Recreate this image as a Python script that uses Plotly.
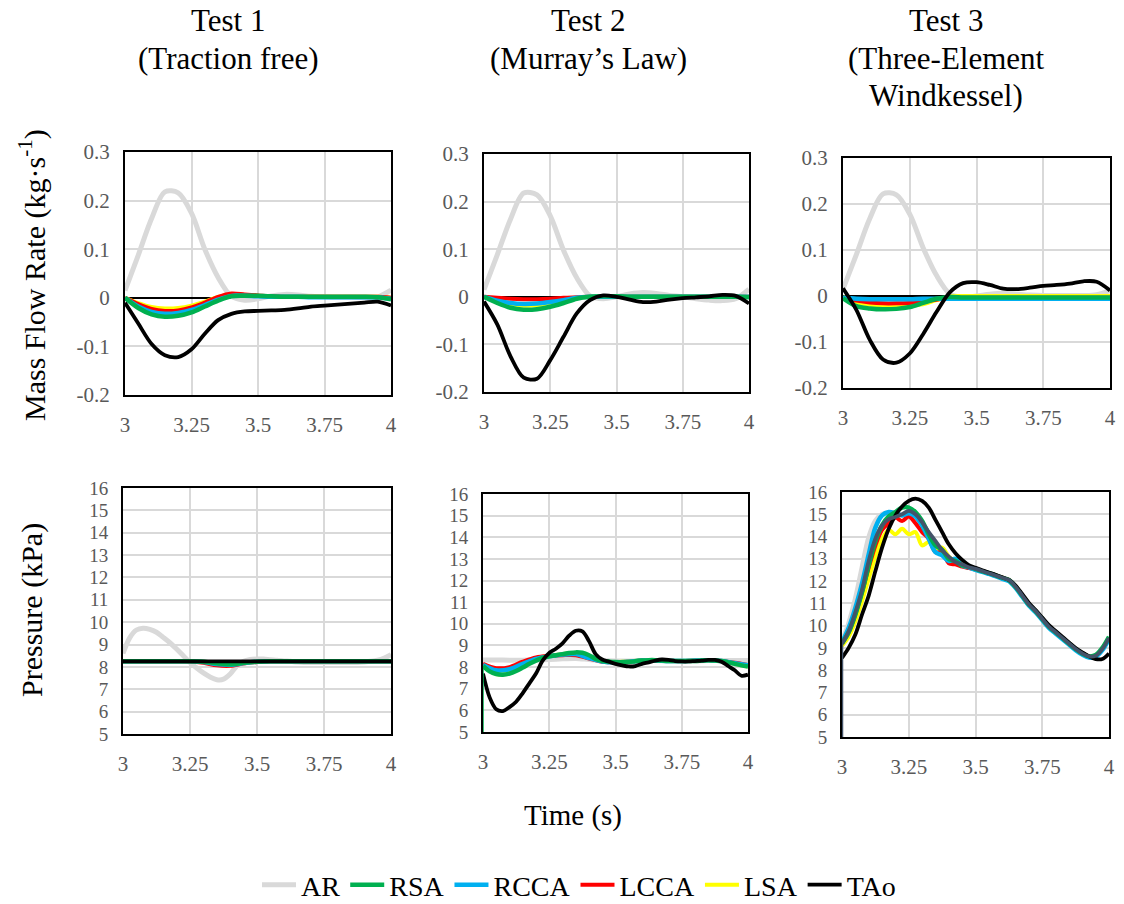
import plotly.graph_objects as go

# ---------------- data ----------------
T21 = [3.00, 3.05, 3.10, 3.15, 3.20, 3.25, 3.30, 3.35, 3.40, 3.45, 3.50,
       3.55, 3.60, 3.65, 3.70, 3.75, 3.80, 3.85, 3.90, 3.95, 4.00]
T41 = [3.000, 3.025, 3.050, 3.075, 3.100, 3.125, 3.150, 3.175, 3.200, 3.225,
       3.250, 3.275, 3.300, 3.325, 3.350, 3.375, 3.400, 3.425, 3.450, 3.475,
       3.500, 3.525, 3.550, 3.575, 3.600, 3.625, 3.650, 3.675, 3.700, 3.725,
       3.750, 3.775, 3.800, 3.825, 3.850, 3.875, 3.900, 3.925, 3.950, 3.975, 4.000]

SERIES = ["AR", "RSA", "RCCA", "LCCA", "LSA", "TAo"]
TITLES = [["Test 1", "(Traction free)"], ["Test 2", "(Murray\u2019s Law)"],
          ["Test 3", "(Three-Element", "Windkessel)"]]
X_TICKS = [3, 3.25, 3.5, 3.75, 4]
X_TICKTEXT = ["3", "3.25", "3.5", "3.75", "4"]
FLOW_TICKS = [-0.2, -0.1, 0, 0.1, 0.2, 0.3]
FLOW_TICKTEXT = ["-0.2", "-0.1", "0", "0.1", "0.2", "0.3"]
P_TICKS = [5, 6, 7, 8, 9, 10, 11, 12, 13, 14, 15, 16]

# Mass flow rate (kg/s), Test 1
F1_AR = [0.015, 0.088, 0.163, 0.218, 0.216, 0.174, 0.100, 0.042, 0.003, -0.005, -0.002,
         0.004, 0.007, 0.006, 0.003, 0.002, 0.001, 0.001, 0.000, 0.002, 0.016]
F1_RSA = [0.000, -0.021, -0.034, -0.039, -0.037, -0.030, -0.018, -0.006, 0.003, 0.004, 0.004,
          0.003, 0.002, 0.002, 0.002, 0.002, 0.002, 0.002, 0.002, 0.001, -0.003]
F1_RCCA = [0.000, -0.018, -0.029, -0.033, -0.031, -0.025, -0.015, -0.004, 0.004, 0.004, 0.003,
           0.002, 0.002, 0.002, 0.001, 0.001, 0.001, 0.001, 0.001, 0.001, -0.002]
F1_LCCA = [0.000, -0.013, -0.023, -0.027, -0.026, -0.020, -0.010, 0.002, 0.009, 0.007, 0.005,
           0.003, 0.002, 0.002, 0.002, 0.002, 0.002, 0.002, 0.002, 0.002, 0.000]
F1_LSA = [0.000, -0.011, -0.019, -0.022, -0.021, -0.016, -0.008, 0.002, 0.007, 0.006, 0.004,
          0.003, 0.002, 0.002, 0.002, 0.002, 0.002, 0.002, 0.002, 0.002, 0.000]
F1_TAO = [-0.010, -0.053, -0.095, -0.118, -0.122, -0.106, -0.074, -0.046, -0.033, -0.028, -0.027,
          -0.026, -0.025, -0.022, -0.018, -0.016, -0.014, -0.012, -0.010, -0.008, -0.016]

# Mass flow rate (kg/s), Test 2
F2_AR = [0.015, 0.088, 0.163, 0.218, 0.214, 0.170, 0.098, 0.040, 0.002, -0.004, 0.000,
         0.006, 0.009, 0.007, 0.003, 0.000, -0.004, -0.007, -0.008, -0.004, 0.016]
F2_RSA = [0.000, -0.013, -0.023, -0.027, -0.026, -0.021, -0.013, -0.004, 0.000, 0.001, 0.001,
          0.000, 0.000, 0.000, 0.000, 0.000, 0.000, 0.000, 0.000, 0.000, -0.001]
F2_RCCA = [0.000, -0.008, -0.013, -0.015, -0.014, -0.011, -0.007, -0.002, 0.000, 0.000, 0.000,
           0.000, 0.000, 0.000, 0.000, 0.000, 0.000, 0.000, 0.000, 0.000, 0.000]
F2_LCCA = [0.000, -0.002, -0.004, -0.005, -0.005, -0.004, -0.002, -0.001, 0.000, 0.000, 0.000,
           0.000, 0.000, 0.000, 0.000, 0.000, 0.000, 0.000, 0.000, 0.000, 0.000]
F2_LSA = [0.000, -0.010, -0.017, -0.019, -0.018, -0.015, -0.009, -0.003, 0.000, 0.000, 0.000,
          0.000, 0.000, 0.000, 0.000, 0.000, 0.000, 0.000, 0.000, 0.000, 0.000]
F2_TAO = [-0.010, -0.058, -0.125, -0.170, -0.172, -0.133, -0.084, -0.035, -0.007, 0.003, 0.000,
          -0.006, -0.011, -0.010, -0.006, -0.003, -0.001, 0.001, 0.004, 0.002, -0.014]

# Mass flow rate (kg/s), Test 3
F3_AR = [0.015, 0.090, 0.168, 0.222, 0.220, 0.178, 0.105, 0.045, 0.005, -0.003, 0.000,
         0.004, 0.006, 0.004, 0.002, 0.001, 0.001, 0.001, 0.001, 0.003, 0.012]
F3_RSA = [-0.005, -0.022, -0.027, -0.029, -0.028, -0.024, -0.015, -0.006, -0.002, -0.003, -0.003,
          -0.003, -0.003, -0.003, -0.003, -0.003, -0.003, -0.003, -0.003, -0.003, -0.003]
F3_RCCA = [-0.004, -0.006, -0.007, -0.007, -0.007, -0.007, -0.006, -0.006, -0.006, -0.006, -0.006,
           -0.006, -0.006, -0.006, -0.006, -0.006, -0.006, -0.006, -0.006, -0.006, -0.006]
F3_LCCA = [-0.004, -0.010, -0.014, -0.016, -0.016, -0.015, -0.013, -0.008, -0.004, -0.004, -0.004,
           -0.004, -0.004, -0.004, -0.004, -0.004, -0.004, -0.004, -0.004, -0.004, -0.004]
F3_LSA = [-0.002, -0.014, -0.019, -0.021, -0.022, -0.021, -0.018, -0.009, -0.001, 0.000, 0.000,
          0.000, 0.000, 0.000, 0.000, 0.000, 0.000, 0.000, 0.000, 0.000, 0.000]
F3_TAO = [0.017, -0.030, -0.095, -0.138, -0.145, -0.125, -0.083, -0.035, 0.008, 0.028, 0.030,
          0.024, 0.016, 0.015, 0.018, 0.022, 0.024, 0.027, 0.032, 0.031, 0.012]

# Pressure (kPa), Test 1
P1_AR = [8.60, 9.30, 9.65, 9.73, 9.68, 9.55, 9.32, 9.08, 8.80, 8.50, 8.20, 7.95, 7.73, 7.55,
         7.43, 7.45, 7.68, 8.05, 8.25, 8.33, 8.35, 8.35, 8.32, 8.30, 8.27, 8.25, 8.22, 8.20,
         8.20, 8.20, 8.20, 8.20, 8.20, 8.20, 8.20, 8.20, 8.22, 8.25, 8.30, 8.40, 8.55]
P1_RSA = [8.25, 8.25, 8.25, 8.25, 8.25, 8.25, 8.23, 8.16, 8.12, 8.18, 8.23,
          8.25, 8.25, 8.25, 8.25, 8.25, 8.25, 8.25, 8.25, 8.25, 8.25]
P1_RCCA = [8.25, 8.25, 8.25, 8.25, 8.25, 8.25, 8.22, 8.13, 8.10, 8.17, 8.23,
           8.25, 8.25, 8.25, 8.25, 8.25, 8.25, 8.25, 8.25, 8.25, 8.25]
P1_LCCA = [8.25, 8.25, 8.25, 8.25, 8.25, 8.24, 8.18, 8.07, 8.05, 8.15, 8.22,
           8.25, 8.25, 8.25, 8.25, 8.25, 8.25, 8.25, 8.25, 8.25, 8.25]
P1_LSA = [8.25, 8.25, 8.25, 8.25, 8.25, 8.25, 8.23, 8.17, 8.13, 8.19, 8.23,
          8.25, 8.25, 8.25, 8.25, 8.25, 8.25, 8.25, 8.25, 8.25, 8.25]
P1_TAO = [8.25, 8.25, 8.25, 8.25, 8.25, 8.25, 8.25, 8.25, 8.25, 8.25, 8.25,
          8.25, 8.25, 8.25, 8.25, 8.25, 8.25, 8.25, 8.25, 8.25, 8.25]

# Pressure (kPa), Test 2
P2_AR = [8.33, 8.33, 8.32, 8.32, 8.33, 8.35, 8.38, 8.40, 8.35, 8.30, 8.28,
         8.28, 8.30, 8.30, 8.28, 8.28, 8.28, 8.30, 8.30, 8.30, 8.30]
P2_RSA_START = 0.0
P2_RSA = [8.05, 7.80, 7.68, 7.65, 7.70, 7.82, 7.98, 8.15, 8.30, 8.42, 8.50, 8.55, 8.60, 8.65,
          8.68, 8.66, 8.55, 8.38, 8.28, 8.25, 8.23, 8.22, 8.23, 8.27, 8.30, 8.32, 8.32, 8.30,
          8.28, 8.28, 8.28, 8.28, 8.28, 8.30, 8.32, 8.30, 8.28, 8.22, 8.15, 8.08, 8.02]
P2_RCCA = [8.10, 7.85, 7.90, 8.15, 8.38, 8.50, 8.58, 8.60, 8.42, 8.26, 8.22,
           8.25, 8.30, 8.30, 8.28, 8.28, 8.30, 8.32, 8.28, 8.18, 8.08]
P2_LCCA = [8.15, 7.95, 8.00, 8.25, 8.45, 8.52, 8.55, 8.55, 8.40, 8.25, 8.22,
           8.25, 8.30, 8.30, 8.28, 8.28, 8.30, 8.32, 8.28, 8.20, 8.10]
P2_LSA = [8.05, 7.68, 7.72, 8.08, 8.35, 8.50, 8.60, 8.65, 8.45, 8.27, 8.23,
          8.27, 8.30, 8.30, 8.28, 8.28, 8.30, 8.32, 8.28, 8.15, 8.02]
P2_TAO = [7.70, 6.60, 6.05, 5.97, 6.15, 6.40, 6.80, 7.25, 7.70, 8.30, 8.65, 8.85, 9.10, 9.45,
          9.68, 9.65, 9.20, 8.60, 8.35, 8.25, 8.15, 8.08, 8.03, 8.05, 8.15, 8.22, 8.30, 8.35,
          8.33, 8.28, 8.26, 8.26, 8.28, 8.30, 8.33, 8.33, 8.25, 8.05, 7.85, 7.60, 7.65]

# Pressure (kPa), Test 3
P3_AR = [9.30, 10.10, 11.20, 12.60, 13.95, 14.70, 15.00, 15.05, 15.00, 14.95, 14.95, 14.85,
         14.55, 14.10, 13.70, 13.35, 13.05, 12.85, 12.72, 12.62, 12.55, 12.45, 12.35, 12.25,
         12.15, 12.05, 11.75, 11.35, 10.95, 10.65, 10.30, 9.95, 9.70, 9.45, 9.20, 8.95, 8.75,
         8.62, 8.65, 8.95, 9.45]
P3_RSA = [9.20, 9.70, 10.50, 11.50, 12.70, 13.80, 14.50, 14.90, 15.10, 15.30, 15.30, 15.10,
          14.70, 14.10, 13.60, 13.40, 13.00, 12.90, 12.70, 12.65, 12.55, 12.45, 12.36, 12.26,
          12.15, 12.05, 11.75, 11.35, 10.95, 10.65, 10.30, 9.95, 9.70, 9.45, 9.20, 8.95, 8.75,
          8.62, 8.68, 9.00, 9.50]
P3_RCCA = [9.25, 9.90, 10.80, 11.90, 13.20, 14.40, 14.95, 15.10, 15.05, 14.95, 15.05, 14.90,
           14.50, 13.90, 13.30, 13.15, 12.90, 13.00, 12.70, 12.62, 12.50, 12.42, 12.32, 12.22,
           12.10, 12.00, 11.70, 11.30, 10.90, 10.60, 10.25, 9.90, 9.65, 9.40, 9.15, 8.90, 8.70,
           8.57, 8.60, 8.90, 9.40]
P3_LCCA = [9.20, 9.70, 10.50, 11.50, 12.60, 13.60, 14.30, 14.60, 14.85, 14.70, 14.90, 14.60,
           14.20, 13.90, 13.30, 13.30, 12.80, 12.75, 12.65, 12.58, 12.52, 12.45, 12.35, 12.25,
           12.15, 12.05, 11.75, 11.35, 10.95, 10.65, 10.30, 9.95, 9.70, 9.45, 9.20, 8.95, 8.75,
           8.62, 8.65, 8.95, 9.45]
P3_LSA = [9.10, 9.50, 10.20, 11.10, 12.10, 13.10, 13.90, 14.30, 14.10, 14.35, 14.10, 14.20,
          13.60, 13.75, 13.45, 13.50, 13.10, 12.90, 12.75, 12.65, 12.55, 12.45, 12.35, 12.25,
          12.15, 12.05, 11.75, 11.35, 10.95, 10.65, 10.30, 9.95, 9.70, 9.45, 9.20, 8.95, 8.75,
          8.62, 8.65, 8.95, 9.45]
P3_TAO = [8.55, 9.00, 9.60, 10.50, 11.35, 12.45, 13.50, 14.35, 14.95, 15.35, 15.60, 15.70,
          15.60, 15.30, 14.75, 14.20, 13.65, 13.25, 12.95, 12.72, 12.60, 12.48, 12.38, 12.28,
          12.17, 12.05, 11.80, 11.42, 11.02, 10.70, 10.36, 10.02, 9.76, 9.50, 9.25, 9.00, 8.80,
          8.62, 8.50, 8.50, 8.75]
P3_EXTRA_START = 0.0
P3_EXTRA = [9.20, 9.75, 10.60, 11.60, 12.90, 13.90, 14.50, 14.78, 14.88, 15.00, 15.15, 15.00,
            14.65, 14.20, 13.80, 13.40, 13.10, 12.85, 12.75, 12.62, 12.55, 12.45, 12.35, 12.25,
            12.15, 12.05, 11.75, 11.35, 10.95, 10.65, 10.30, 9.95, 9.70, 9.45, 9.20, 8.95, 8.75,
            8.62, 8.65, 8.95, 9.45]

# ---------------- styling ----------------
COLORS = {"AR": "#D9D9D9", "RSA": "#00B050", "RCCA": "#00B0F0", "LCCA": "#FF0000",
          "LSA": "#FFFF00", "TAo": "#000000", "extra": "#44546A"}
WIDTHS = {"AR": 5, "RSA": 4.5, "RCCA": 4.5, "LCCA": 4, "LSA": 4, "TAo": 3.8, "extra": 3.8}
RANK = {"AR": 1, "RSA": 2, "RCCA": 3, "LCCA": 4, "LSA": 5, "TAo": 6, "extra": 7}
DRAW_ORDER = ["AR", "LSA", "LCCA", "RCCA", "RSA", "TAo"]
SERIF = "Liberation Serif"

W, H = 1124, 904
# panel pixel boxes: left, right, top, bottom
BOXES = [(125, 391, 152, 395), (484, 749, 154, 392), (843, 1110, 158, 388),
         (123, 391, 488, 734), (483, 748, 494, 732), (842, 1109, 492, 737)]

PANELS = [
    {"AR": (T21, F1_AR), "RSA": (T21, F1_RSA), "RCCA": (T21, F1_RCCA),
     "LCCA": (T21, F1_LCCA), "LSA": (T21, F1_LSA), "TAo": (T21, F1_TAO)},
    {"AR": (T21, F2_AR), "RSA": (T21, F2_RSA), "RCCA": (T21, F2_RCCA),
     "LCCA": (T21, F2_LCCA), "LSA": (T21, F2_LSA), "TAo": (T21, F2_TAO)},
    {"AR": (T21, F3_AR), "RSA": (T21, F3_RSA), "RCCA": (T21, F3_RCCA),
     "LCCA": (T21, F3_LCCA), "LSA": (T21, F3_LSA), "TAo": (T21, F3_TAO)},
    {"AR": (T41, P1_AR), "RSA": (T21, P1_RSA), "RCCA": (T21, P1_RCCA),
     "LCCA": (T21, P1_LCCA), "LSA": (T21, P1_LSA), "TAo": (T21, P1_TAO)},
    {"AR": (T21, P2_AR), "RSA": (T41, P2_RSA), "RCCA": (T21, P2_RCCA),
     "LCCA": (T21, P2_LCCA), "LSA": (T21, P2_LSA), "TAo": (T41, P2_TAO)},
    {"AR": (T41, P3_AR), "RSA": (T41, P3_RSA), "RCCA": (T41, P3_RCCA),
     "LCCA": (T41, P3_LCCA), "LSA": (T41, P3_LSA), "TAo": (T41, P3_TAO)},
]

fig = go.Figure()


def axname(i):
    return "" if i == 0 else str(i + 1)


def add_line(i, x, y, key, name, showlegend, width=None):
    fig.add_trace(go.Scatter(
        x=x, y=y, mode="lines", name=name, legendgroup=name,
        showlegend=showlegend, legendrank=RANK[key], hoverinfo="skip",
        line=dict(color=COLORS[key], width=width or WIDTHS[key], shape="spline", smoothing=0.9),
        xaxis="x" + axname(i), yaxis="y" + axname(i)))


for i, panel in enumerate(PANELS):
    for s in DRAW_ORDER:
        x, y = panel[s]
        add_line(i, x, y, s, s, i == 0)
    if i == 4:
        add_line(i, [T41[0], T41[0]], [P2_RSA_START, P2_RSA[0]], "RSA", "RSA", False, 1.5)
    if i == 5:
        add_line(i, T41, P3_EXTRA, "extra", "extra", False)
        add_line(i, [T41[0], T41[0]], [P3_EXTRA_START, P3_EXTRA[0]], "extra", "extra", False, 2.5)

layout = dict(
    width=W, height=H, margin=dict(l=0, r=0, t=0, b=0, pad=0, autoexpand=False),
    paper_bgcolor="white", plot_bgcolor="white",
    font=dict(family=SERIF, color="black"),
    showlegend=True,
    legend=dict(orientation="h", x=579 / W, xanchor="center", y=1 - 885 / H, yanchor="middle",
                font=dict(family=SERIF, size=28, color="black"), bgcolor="rgba(0,0,0,0)",
                tracegroupgap=0, itemwidth=34),
)

for i, (l, r, t, b) in enumerate(BOXES):
    n = axname(i)
    common = dict(showline=True, mirror=True, linecolor="black", linewidth=2,
                  showgrid=True, gridcolor="#D9D9D9", gridwidth=1.5, ticks="",
                  automargin=False)
    layout["xaxis" + n] = dict(common, domain=[l / W, r / W], anchor="y" + n,
                               range=[3, 4], tickvals=X_TICKS, ticktext=X_TICKTEXT,
                               zeroline=False, ticklabelstandoff=10,
                               tickfont=dict(family=SERIF, size=21, color="#595959"))
    if i < 3:
        ydict = dict(range=[-0.2, 0.3], tickvals=FLOW_TICKS, ticktext=FLOW_TICKTEXT,
                     zeroline=True, zerolinecolor="black", zerolinewidth=2,
                     tickfont=dict(family=SERIF, size=21, color="#595959"))
    else:
        ydict = dict(range=[5, 16], tickvals=P_TICKS, zeroline=False,
                     tickfont=dict(family=SERIF, size=19, color="#595959"))
    layout["yaxis" + n] = dict(common, domain=[1 - b / H, 1 - t / H], anchor="x" + n,
                               ticklabelstandoff=9, **ydict)

annotations = []
title_x = [228, 588, 946]
title_y = [20, 58, 96]
for c, lines in enumerate(TITLES):
    for k, txt in enumerate(lines):
        annotations.append(dict(text=txt, x=title_x[c] / W, y=1 - title_y[k] / H,
                                xref="paper", yref="paper", showarrow=False,
                                xanchor="center", yanchor="middle",
                                font=dict(family=SERIF, size=31, color="black")))
annotations.append(dict(text="Mass Flow Rate (kg\u00b7s<sup>-1</sup>)", x=32 / W, y=1 - 275 / H,
                        xref="paper", yref="paper", showarrow=False, textangle=-90,
                        xanchor="center", yanchor="middle",
                        font=dict(family=SERIF, size=30, color="black")))
annotations.append(dict(text="Pressure (kPa)", x=32 / W, y=1 - 610 / H,
                        xref="paper", yref="paper", showarrow=False, textangle=-90,
                        xanchor="center", yanchor="middle",
                        font=dict(family=SERIF, size=30, color="black")))
annotations.append(dict(text="Time (s)", x=573 / W, y=1 - 815 / H,
                        xref="paper", yref="paper", showarrow=False,
                        xanchor="center", yanchor="middle",
                        font=dict(family=SERIF, size=29, color="black")))
layout["annotations"] = annotations

fig.update_layout(layout)
fig.write_html("out.html", config={"displayModeBar": False},
               post_script="document.body.style.margin='0px';"
                           "document.body.style.overflow='hidden';")
